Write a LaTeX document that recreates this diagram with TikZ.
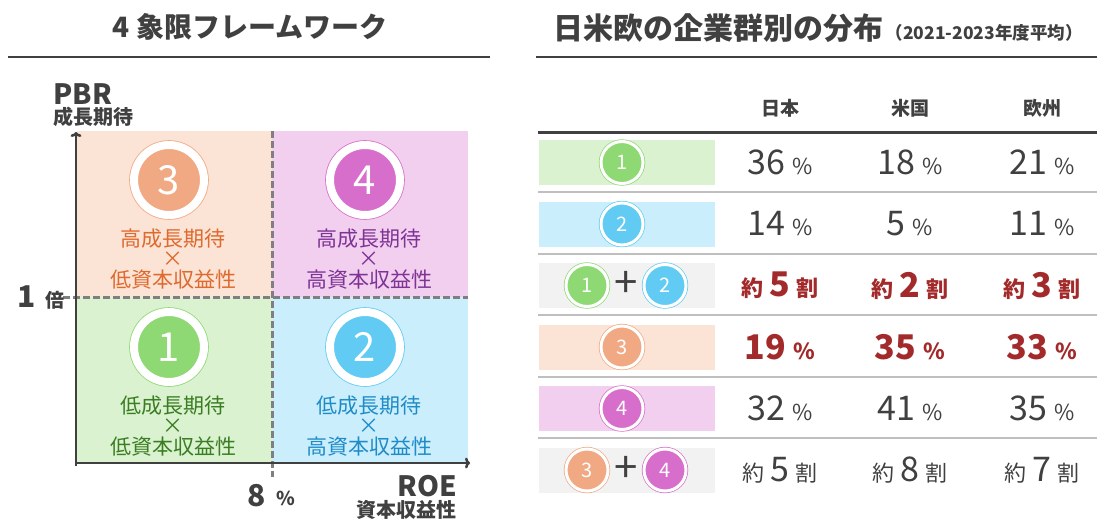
\documentclass[tikz,border=0pt]{standalone}
\usepackage{fontspec}
\setmainfont{Noto Sans CJK JP}
\usetikzlibrary{arrows.meta}

\definecolor{ink}{HTML}{404040}
\definecolor{dashgray}{HTML}{7F7F7F}
\definecolor{rulegray}{HTML}{BFBFBF}
\definecolor{boxgray}{HTML}{F2F2F2}
\definecolor{hilite}{HTML}{A32A2A}
\definecolor{qonefill}{HTML}{DAF2D0}
\definecolor{qtwofill}{HTML}{CAEEFB}
\definecolor{qthreefill}{HTML}{FBE3D6}
\definecolor{qfourfill}{HTML}{F2CFEE}
\definecolor{qonedot}{HTML}{8ED973}
\definecolor{qtwodot}{HTML}{61CBF4}
\definecolor{qthreedot}{HTML}{F1A983}
\definecolor{qfourdot}{HTML}{D86ECC}
\definecolor{qonetext}{HTML}{3B7D23}
\definecolor{qtwotext}{HTML}{1F8CC8}
\definecolor{qthreetext}{HTML}{DE6A2E}
\definecolor{qfourtext}{HTML}{7E3396}

\newcommand{\fs}[1]{\fontsize{#1}{#1}\selectfont}
\newcommand{\pct}[1]{{\fs{34}#1}\hspace{7pt}{\fs{22}\%}}
\newcommand{\wari}[1]{{\fs{22}約}\hspace{6pt}{\fs{34}#1}\hspace{6pt}{\fs{22}割}}

\begin{document}
\begin{tikzpicture}[x=1pt,y=-1pt,
		badge/.style={circle, inner sep=0pt, minimum size=70pt, fill=#1, draw=#1,
			line width=0.8pt, double=white, double distance=8pt,
			text=white, font=\fs{40}},
		minibadge/.style={circle, inner sep=0pt, minimum size=42pt, fill=#1, draw=#1,
			line width=0.7pt, double=white, double distance=3pt,
			text=white, font=\fs{20}},
		plus/.style={text=ink, font=\fs{42}, inner sep=0pt},
		quadtext/.style={align=center, text=#1, font=\fontsize{21}{20.5}\selectfont},
		axislabel/.style={text=ink, font=\bfseries\fs{#1}, inner sep=0pt},
		axis/.style={ink, line width=2.5pt, -{To[length=5pt,width=11pt]}},
		split/.style={dashgray, line width=3pt, dash pattern=on 7pt off 3pt},
		val/.style={text=ink, inner sep=0pt},
		boldval/.style={text=hilite, font=\bfseries, inner sep=0pt}]
	\useasboundingbox (0,0) rectangle (1097,520);

	% titles
	\node[text=ink, font=\bfseries\fs{28}] (lefttitle) at (250,27) {4 象限フレームワーク};
	\draw[ink, line width=2.5pt] (8,57) -- (490,57);
	\node[text=ink, font=\bfseries\fs{30}, anchor=base west, inner sep=0pt] (righttitle) at (553,39) {日米欧の企業群別の分布};
	\node[text=ink, font=\bfseries\fs{17.5}, anchor=base west, inner sep=0pt] (period) at ([xshift=2pt]righttitle.base east) {（2021-2023年度平均）};
	\draw[ink, line width=2.5pt] (536,57) -- (1097,57);

	% quadrants
	\fill[qthreefill] (77,131) rectangle (272,297);
	\fill[qfourfill] (272,131) rectangle (468,297);
	\fill[qonefill] (77,297) rectangle (272,463);
	\fill[qtwofill] (272,297) rectangle (468,463);
	\draw[split] (63,297) -- (468,297);
	\draw[split] (272,131) -- (272,477);

	\coordinate (origin) at (76,463);
	\coordinate (ytip) at (76,132);
	\coordinate (xtip) at (470,463);
	\draw[axis] (76,466) -- (ytip);
	\draw[axis] (74.75,463) -- (xtip);

	\node[badge=qthreedot] (q3) at (169,180) {3};
	\node[badge=qfourdot] (q4) at (365,180) {4};
	\node[badge=qonedot] (q1) at (169,347) {1};
	\node[badge=qtwodot] (q2) at (365,347) {2};
	\node[quadtext=qthreetext] (q3txt) at (173,259) {高成長期待\\×\\低資本収益性};
	\node[quadtext=qfourtext] (q4txt) at (369,259) {高成長期待\\×\\高資本収益性};
	\node[quadtext=qonetext] (q1txt) at (173,426) {低成長期待\\×\\低資本収益性};
	\node[quadtext=qtwotext] (q2txt) at (369,426) {低成長期待\\×\\高資本収益性};

	\node[axislabel=28] (pbr) at (83,94) {PBR};
	\node[axislabel=20, anchor=west] (growth) at (53,117) {成長期待};
	\node[axislabel=28, anchor=east] (roe) at (457,486) {ROE};
	\node[axislabel=20, anchor=east] (profit) at (457,510) {資本収益性};
	\node[axislabel=30] (one) at (27,297) {1};
	\node[axislabel=19] (bai) at (55,300) {倍};
	\node[axislabel=30] (eight) at (257,496) {8};
	\node[axislabel=19] (eightpct) at (286,498) {\%};

	% table
	\node[text=ink, font=\bfseries\fs{19}] (japan) at (780,108) {日本};
	\node[text=ink, font=\bfseries\fs{19}] (usa) at (910,108) {米国};
	\node[text=ink, font=\bfseries\fs{19}] (europe) at (1042,108) {欧州};
	\draw[ink, line width=3pt] (538,132) -- (1097,132);
	\foreach \y in {192,253.5,315,376.5,438}
		\draw[rulegray, line width=2pt] (538,\y) -- (1097,\y);

	\foreach \y/\c in {162.5/qonefill,224/qtwofill,285.5/boxgray,347/qthreefill,408.5/qfourfill,470/boxgray}
		\fill[\c] (539,\y-22.5) rectangle (715,\y+22.5);

	\node[minibadge=qonedot] (r1) at (622,162.5) {1};
	\node[minibadge=qtwodot] (r2) at (622,224) {2};
	\node[minibadge=qonedot] (r3a) at (587,285.5) {1};
	\node[plus] (r3plus) at (626.5,284.5) {+};
	\node[minibadge=qtwodot] (r3b) at (665,285.5) {2};
	\node[minibadge=qthreedot] (r4) at (622,347) {3};
	\node[minibadge=qfourdot] (r5) at (622,408.5) {4};
	\node[minibadge=qthreedot] (r6a) at (587,470) {3};
	\node[plus] (r6plus) at (626.5,469) {+};
	\node[minibadge=qfourdot] (r6b) at (665,470) {4};

	\foreach \x/\a/\b/\c/\d/\e/\f [count=\i] in {780/36/14/5/19/32/5,910/18/5/2/35/41/8,1042/21/11/3/33/35/7}{
		\node[val] (v1c\i) at (\x,162.5) {\pct{\a}};
		\node[val] (v2c\i) at (\x,224) {\pct{\b}};
		\node[boldval] (v3c\i) at (\x,285.5) {\wari{\c}};
		\node[boldval] (v4c\i) at (\x,347) {\pct{\d}};
		\node[val] (v5c\i) at (\x,408.5) {\pct{\e}};
		\node[val] (v6c\i) at (\x,470) {\wari{\f}};
	}
\end{tikzpicture}
\end{document}
